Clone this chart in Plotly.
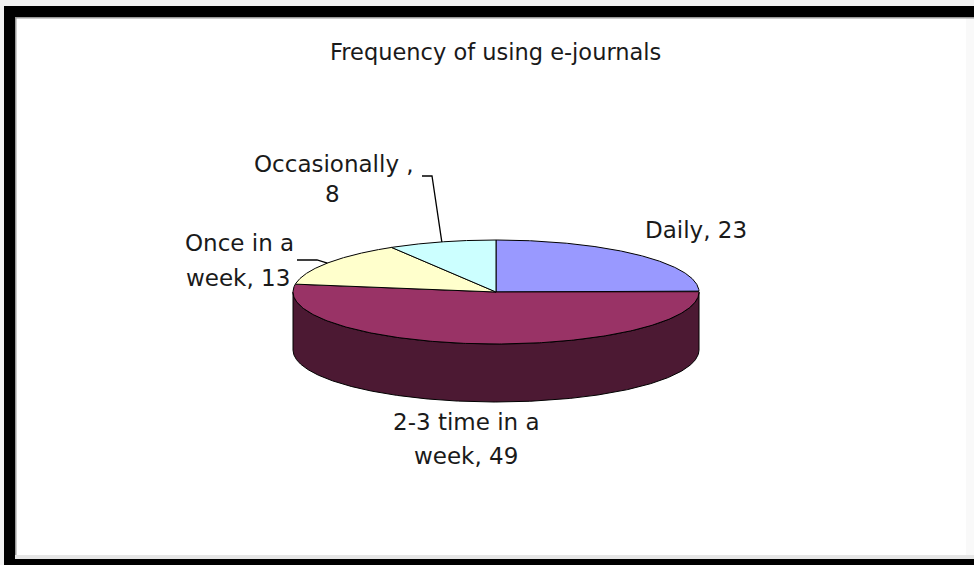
import numpy as np
import plotly.graph_objects as go

# ---- data ----
categories = ["Daily", "2-3 time in a week", "Once in a week", "Occasionally"]
values = [23, 49, 13, 8]
label_lines = [["Daily, 23"], ["2-3 time in a", "week, 49"],
               ["Once in a", "week, 13"], ["Occasionally ,", "8"]]
title_text = "Frequency of using e-journals"

# ---- styling ----
top_colors = ["#9999FF", "#993366", "#FFFFCC", "#CCFFFF"]
side_colors = ["#4D4D80", "#4C1933", "#80804C", "#4C8080"]
text_color = "#1a1a1a"
font_family = "DejaVu Sans"

# ---- geometry of the tilted pie (page pixels) ----
W, H = 974, 565
cx, cy = 496, 292          # centre of the top face
rx, ry = 203, 52           # ellipse radii of the top face
depth = 58                 # thickness of the disc
start_deg = 90.0           # first slice starts at 12 o'clock, clockwise

# label centres (page pixels) and leader-line elbows per category
label_pos = {
    "Daily": [(696, 230)],
    "2-3 time in a week": [(466, 422), (466, 456)],
    "Once in a week": [(239, 243), (238, 278)],
    "Occasionally": [(334, 164), (332, 194)],
}
leader_elbows = {
    "Once in a week": [(297, 260), (317, 260)],
    "Occasionally": [(422, 176), (432, 176)],
}


def ell(theta_deg, dy=0.0):
    t = np.radians(theta_deg)
    return cx + rx * np.cos(t), cy - ry * np.sin(t) + dy


vals = np.array(values, dtype=float)
frac = vals / vals.sum()
bounds = start_deg - 360.0 * np.concatenate([[0.0], np.cumsum(frac)])

fig = go.Figure()

# side walls (only the front half of the disc is visible)
for i, cat in enumerate(categories):
    a0, a1 = bounds[i], bounds[i + 1]
    th = np.linspace(a0, a1, 600)
    front = np.sin(np.radians(th)) <= 1e-9
    if not front.any():
        continue
    idx = np.where(front)[0]
    runs = np.split(idx, np.where(np.diff(idx) != 1)[0] + 1)
    for run in runs:
        t = th[run]
        xt, yt = ell(t)
        xb, yb = ell(t[::-1], depth)
        xs = np.concatenate([xt, xb, xt[:1]])
        ys = np.concatenate([yt, yb, yt[:1]])
        fig.add_trace(go.Scatter(
            x=xs, y=ys, mode="lines", fill="toself",
            fillcolor=side_colors[i], line=dict(color="black", width=1),
            hoverinfo="skip", showlegend=False))

# top faces
for i, cat in enumerate(categories):
    a0, a1 = bounds[i], bounds[i + 1]
    th = np.linspace(a0, a1, 300)
    xa, ya = ell(th)
    xs = np.concatenate([[cx], xa, [cx]])
    ys = np.concatenate([[cy], ya, [cy]])
    fig.add_trace(go.Scatter(
        x=xs, y=ys, mode="lines", fill="toself",
        fillcolor=top_colors[i], line=dict(color="black", width=1),
        name=cat, hovertemplate=f"{cat}: {values[i]}<extra></extra>",
        showlegend=False))

# leader lines from labels to the middle of the slice rim
for i, cat in enumerate(categories):
    if cat not in leader_elbows:
        continue
    mid = 0.5 * (bounds[i] + bounds[i + 1])
    ex, ey = ell(mid)
    pts = leader_elbows[cat] + [(ex, ey)]
    fig.add_trace(go.Scatter(
        x=[p[0] for p in pts], y=[p[1] for p in pts], mode="lines",
        line=dict(color="black", width=1.3), hoverinfo="skip",
        showlegend=False))

annotations = [dict(x=495, y=52, text=title_text, showarrow=False,
                    xref="x", yref="y", xanchor="center", yanchor="middle",
                    font=dict(family=font_family, size=22.5, color=text_color))]
for cat, lines in zip(categories, label_lines):
    for (lx, ly), txt in zip(label_pos[cat], lines):
        annotations.append(dict(
            x=lx, y=ly, text=txt, showarrow=False, xref="x", yref="y",
            xanchor="center", yanchor="middle",
            font=dict(family=font_family, size=23, color=text_color)))

# picture frame
shapes = [
    dict(type="rect", x0=0, x1=W, y0=0, y1=6, fillcolor="#f2f2f2", line_width=0, layer="below"),
    dict(type="rect", x0=0, x1=4, y0=0, y1=H, fillcolor="#f2f2f2", line_width=0, layer="below"),
    dict(type="rect", x0=966, x1=W, y0=17, y1=559, fillcolor="#f9f9f9", line_width=0, layer="below"),
    dict(type="rect", x0=4, x1=W, y0=6, y1=17, fillcolor="black", line_width=0),
    dict(type="rect", x0=4, x1=15, y0=6, y1=H, fillcolor="black", line_width=0),
    dict(type="rect", x0=4, x1=W, y0=559, y1=H, fillcolor="black", line_width=0),
    dict(type="rect", x0=15, x1=W, y0=17, y1=18.5, fillcolor="#9a9a9a", line_width=0),
    dict(type="rect", x0=15, x1=16.5, y0=17, y1=559, fillcolor="#9a9a9a", line_width=0),
    dict(type="rect", x0=15, x1=W, y0=555, y1=559, fillcolor="#e6e6e6", line_width=0),
]

fig.update_layout(
    width=W, height=H, margin=dict(l=0, r=0, t=0, b=0),
    paper_bgcolor="white", plot_bgcolor="white",
    xaxis=dict(range=[0, W], visible=False, fixedrange=True),
    yaxis=dict(range=[H, 0], visible=False, fixedrange=True),
    annotations=annotations, shapes=shapes, showlegend=False,
)

fig.write_html("out.html", config={"displayModeBar": False})
